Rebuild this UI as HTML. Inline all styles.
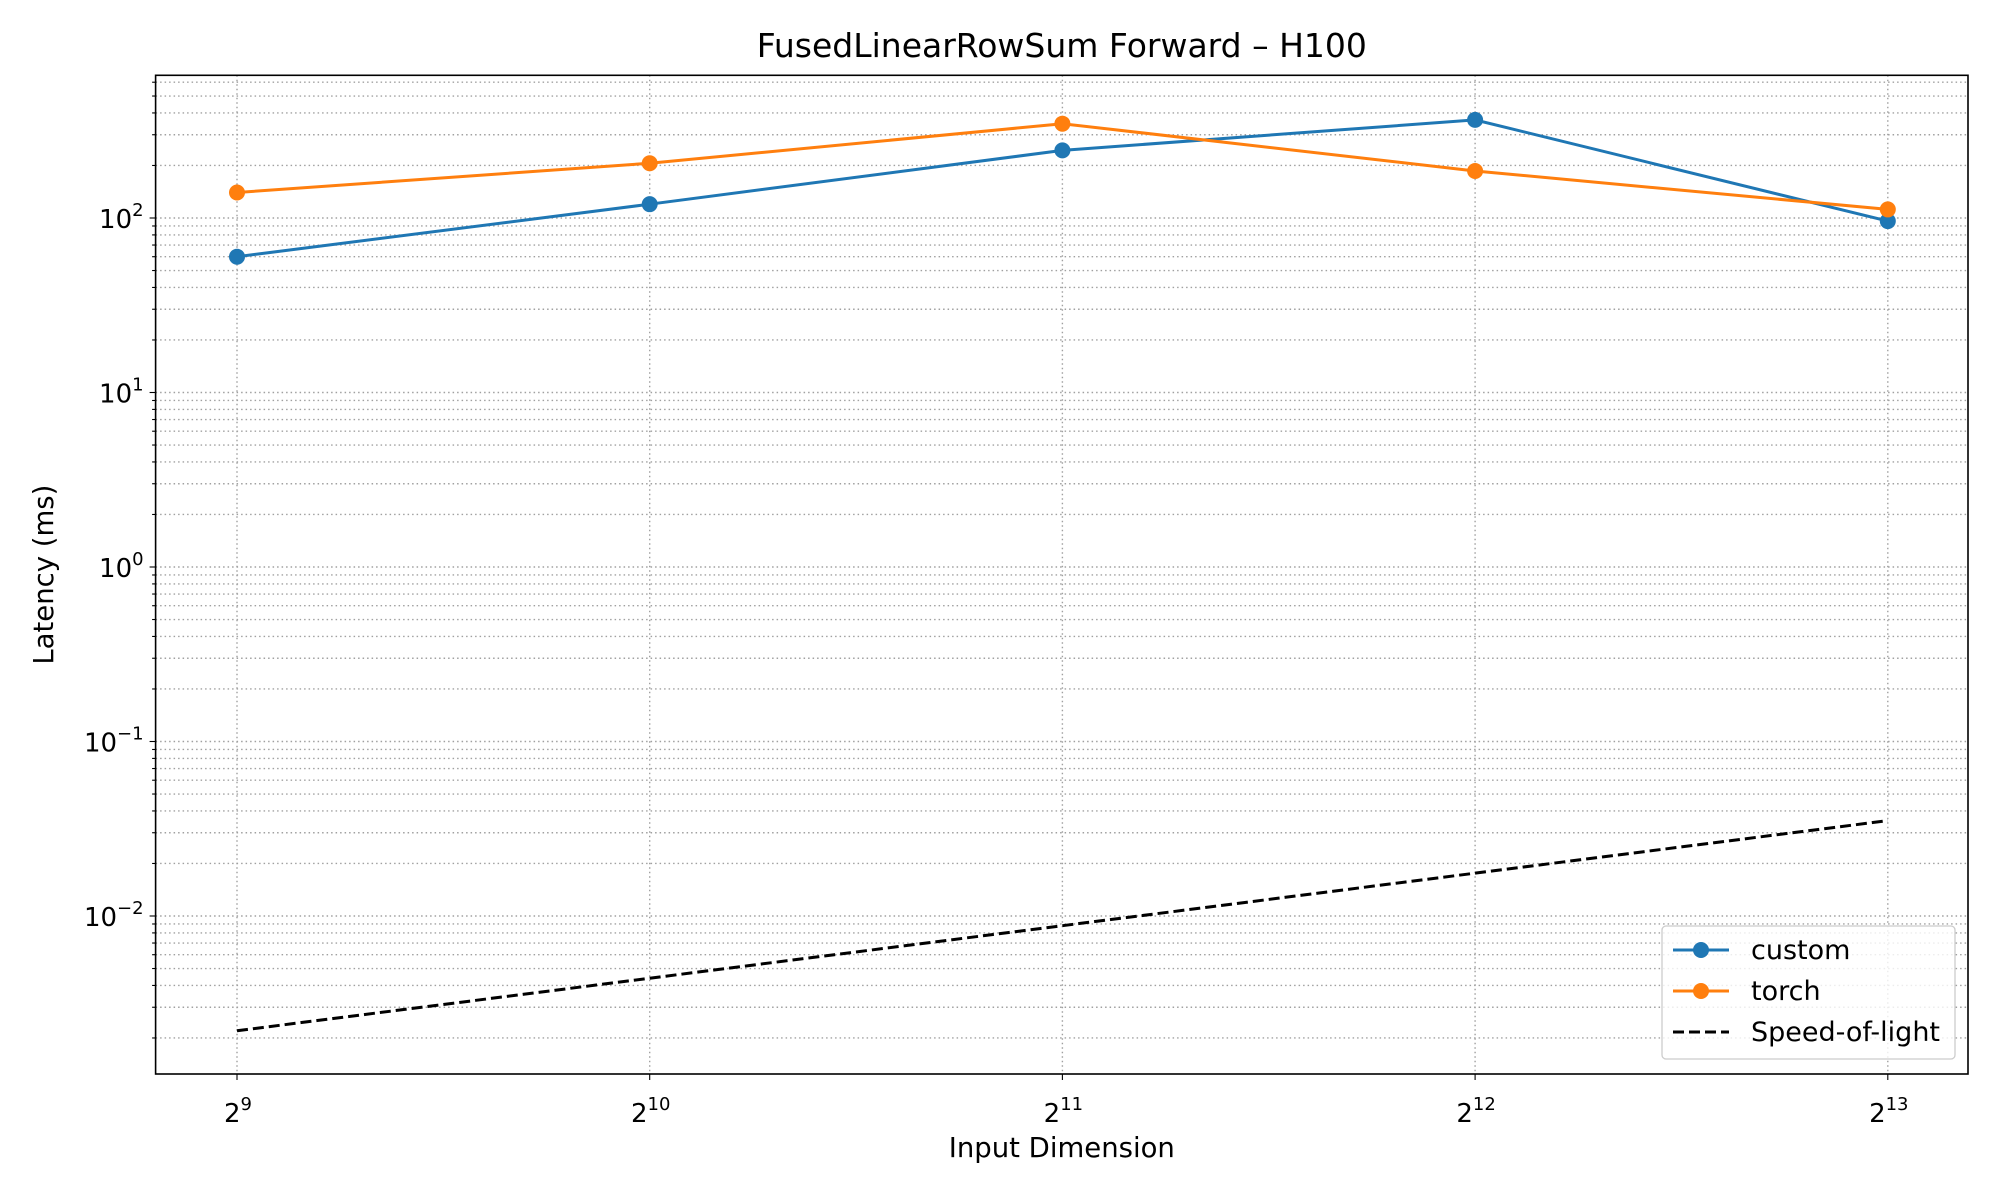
<!DOCTYPE html>
<html><head><meta charset="utf-8"><style>
body{margin:0;background:#fff}
svg{display:block;font-family:"DejaVu Sans","Liberation Sans",sans-serif}
</style></head><body>
<svg id="chart" width="2000" height="1200" viewBox="0 0 2000 1200">
<rect width="2000" height="1200" fill="#fff"/>
<g id="grid"></g><g id="series"></g><g id="axes"></g><g id="legend"></g>
</svg>
<script>
const categories=[9,10,11,12,13];
const customValues=[60,120,244,365,96];
const torchValues=[140,206,347,186,112];
const solValues=[0.0022,0.0044,0.0088,0.0176,0.0352];
const yTickExps=[-2,-1,0,1,2];

const NS="http://www.w3.org/2000/svg";
const L=155.6,R=1968,T=75.3,B=1074;
const yDecade=174.5,y100=218;
function xs(e){return 237+(e-9)*(1887.8-237)/4;}
function ys(v){return y100-(Math.log10(v)-2)*yDecade;}
function mk(p,tag,a,txt){const e=document.createElementNS(NS,tag);for(const k in a)e.setAttribute(k,a[k]);if(txt!==undefined)e.textContent=txt;p.appendChild(e);return e;}
const grid=document.getElementById('grid'),axes=document.getElementById('axes'),ser=document.getElementById('series'),leg=document.getElementById('legend');
for(let d=-3;d<=2;d++){for(let m=1;m<=9;m++){const v=m*Math.pow(10,d);const y=ys(v);if(y<T||y>B)continue;
const g=mk(grid,'line',{x1:L,x2:R,y1:y,y2:y,stroke:'#a0a0a0','stroke-width':1.4,'stroke-dasharray':'1.5,3'});
}}
categories.forEach(c=>{const g=mk(grid,'line',{x1:xs(c),x2:xs(c),y1:T,y2:B,stroke:'#a0a0a0','stroke-width':1.4,'stroke-dasharray':'1.5,3'});
});
const fr=mk(axes,'rect',{x:L,y:T,width:R-L,height:B-T,fill:'none',stroke:'#000','stroke-width':1.6});

for(let d=-3;d<=2;d++){for(let m=1;m<=9;m++){const v=m*Math.pow(10,d);const y=ys(v);if(y<T||y>B)continue;
const t=mk(axes,'line',{x1:L,x2:L-(m==1?6:3.5),y1:y,y2:y,stroke:'#000','stroke-width':1.1});
}}
yTickExps.forEach(e=>{const y=ys(Math.pow(10,e));
const t=mk(axes,'text',{x:L-12,y:y+10,'text-anchor':'end','font-size':26});

t.appendChild(document.createTextNode('10'));mk(t,'tspan',{dy:-12,'font-size':18},String(e).replace('-','\u2212'));});
categories.forEach(c=>{const x=xs(c);
const tk=mk(axes,'line',{x1:x,x2:x,y1:B,y2:B+6,stroke:'#000','stroke-width':1.1});

const t=mk(axes,'text',{x:x+1,y:B+48,'text-anchor':'middle','font-size':26});

t.appendChild(document.createTextNode('2'));mk(t,'tspan',{dy:-12,'font-size':18},String(c));});
let e;
e=mk(axes,'text',{x:(L+R)/2,y:57,'text-anchor':'middle','font-size':33},'FusedLinearRowSum Forward \u2013 H100');
e=mk(axes,'text',{x:(L+R)/2,y:1157,'text-anchor':'middle','font-size':27.5},'Input Dimension');
e=mk(axes,'text',{x:53,y:(T+B)/2,'text-anchor':'middle','font-size':27.5,transform:`rotate(-90 53 ${(T+B)/2})`},'Latency (ms)');
function line(vals,color,dash,name,markers){
const pts=vals.map((v,i)=>xs(categories[i])+','+ys(v)).join(' ');
const p=mk(ser,'polyline',{points:pts,fill:'none',stroke:color,'stroke-width':3,'stroke-dasharray':dash||'none'});

if(markers)vals.forEach((v,i)=>{const c=mk(ser,'circle',{cx:xs(categories[i]),cy:ys(v),r:8,fill:color});
});}
line(customValues,'#1f77b4',null,'custom',true);
line(torchValues,'#ff7f0e',null,'torch',true);
line(solValues,'#000','11,5','speed-of-light',false);
e=mk(leg,'rect',{x:1662,y:926,width:293,height:133,rx:4,fill:'#fff','fill-opacity':0.8,stroke:'#ccc','stroke-width':1.3});

[['custom','#1f77b4',null,true],['torch','#ff7f0e',null,true],['Speed-of-light','#000','11,5',false]].forEach((it,i)=>{
const y=950+i*41;
const l=mk(leg,'line',{x1:1673,x2:1729,y1:y,y2:y,stroke:it[1],'stroke-width':3,'stroke-dasharray':it[2]||'none'});

if(it[3]){const c=mk(leg,'circle',{cx:1701,cy:y,r:8,fill:it[1]});}
const t=mk(leg,'text',{x:1751,y:y+9,'font-size':27},it[0]);
});
</script>
</body></html>
